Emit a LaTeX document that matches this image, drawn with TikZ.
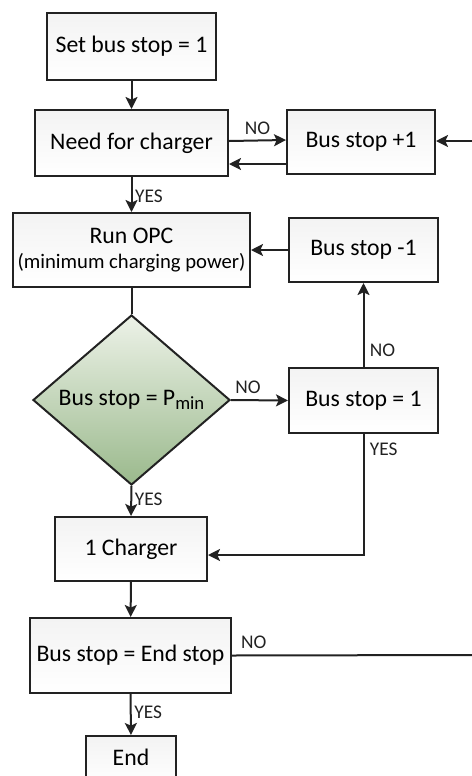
\documentclass[tikz,border=0pt]{standalone}
\usepackage{fontspec}
\setmainfont{Carlito}
\usetikzlibrary{arrows.meta,shapes.geometric}
\definecolor{edge}{HTML}{222222}
\definecolor{boxtop}{HTML}{F3F3F3}
\definecolor{leaftop}{HTML}{EDF2E8}
\definecolor{leafbot}{HTML}{9AB98C}
\tikzset{
  stepbox/.style={draw=edge, line width=1.5pt, top color=boxtop, bottom color=white,
    minimum width=#1*0.75pt, inner sep=2pt, font=\fontsize{17.8}{21}\selectfont},
  flow/.style={draw=edge, line width=1.5pt, -{Stealth[length=9pt,width=9pt,inset=2pt]}},
  plain/.style={draw=edge, line width=1.5pt},
  tag/.style={font=\fontsize{14.5}{16}\selectfont, text=edge, inner sep=1pt}
}
\begin{document}
\begin{tikzpicture}[x=0.75pt,y=-0.75pt]
\useasboundingbox (0,0) rectangle (472,776);
\begin{scope}
\clip (0,0) rectangle (472,776);

% process boxes
\node[stepbox=169, minimum height=67*0.75pt] (set) at (131.5,46.5) {Set bus stop = 1};
\node[stepbox=193, minimum height=66*0.75pt] (need) at (131.5,143) {Need for charger};
\node[stepbox=148, minimum height=64*0.75pt] (plus) at (361,142) {Bus stop +1};
\node[stepbox=237, minimum height=74*0.75pt, align=center] (opc) at (131.5,250)
  {Run OPC\\[-2pt]{\fontsize{15.5}{18}\selectfont(minimum charging power)}};
\node[stepbox=149, minimum height=64*0.75pt] (minus) at (363.5,250) {Bus stop -1};
\node[diamond, draw=edge, line width=1.5pt, top color=leaftop, bottom color=leafbot,
  minimum width=197*0.75pt, minimum height=170*0.75pt, inner sep=0pt,
  font=\fontsize{17.8}{21}\selectfont] (pmin) at (131.5,400)
  {Bus stop = P\raisebox{-0.35ex}{\fontsize{14}{16}\selectfont min}};
\node[stepbox=149, minimum height=65*0.75pt] (first) at (363.5,400.5) {Bus stop = 1};
\node[stepbox=152, minimum height=64*0.75pt] (one) at (131,549) {1 Charger};
\node[stepbox=201, minimum height=75*0.75pt] (last) at (130.5,655.5) {Bus stop = End stop};
\node[stepbox=90, minimum height=50*0.75pt, anchor=north] (end) at (131,735) {};
\node[font=\fontsize{17.8}{21}\selectfont] (endtext) at (131,757) {End};

% outer loop ends at the page edge
\coordinate (loopin) at (474,141);
\coordinate (loopout) at (474,655);

% connectors
\draw[flow] (set) -- (need);
\draw[flow] ([yshift=1.5pt]need.east) -- node[tag, above=3pt] {NO} ([yshift=1.5pt]plus.west);
\draw[flow] (plus.west |- 0,164) -- (need.east |- 0,164);
\draw[flow] (loopin) -- (plus.east |- loopin);
\draw[flow] (need) -- node[tag, right=1pt, pos=0.55] {YES} (opc);
\draw[flow] (minus.west) -- (opc.east |- minus.west);
\draw[plain] (opc) -- (pmin.north);
\draw[flow] (pmin.east) -- node[tag, above=3pt, pos=0.3] {NO} (first.west);
\draw[flow] (first.north) -- node[tag, right=3pt, pos=0.2] {NO} (minus.south);
\draw[flow] (first.south) -- node[tag, right=3pt, pos=0.13] {YES} (363.5,555) -- (one.east |- 0,555);
\draw[flow] (pmin.south) -- node[tag, right=1pt, pos=0.45] {YES} (one.north);
\draw[flow] (one) -- (last);
\draw[plain] (last.east) -- node[tag, above=3pt, pos=0.09] {NO} (loopout);
\draw[flow] (last.south) -- node[tag, right=1pt, pos=0.45] {YES} (end.north);
\end{scope}
\end{tikzpicture}
\end{document}
